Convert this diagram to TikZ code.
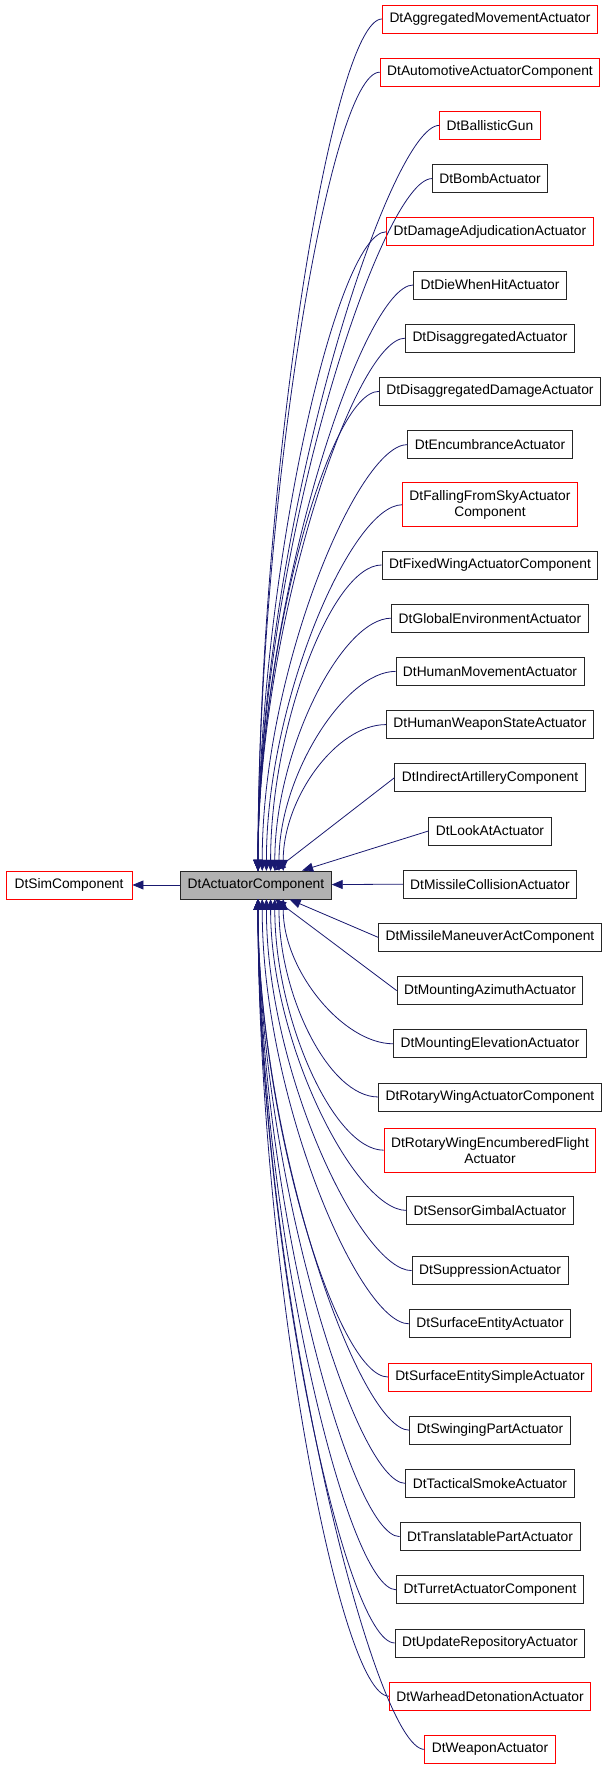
\documentclass[tikz,border=0pt]{standalone}
\usepackage{fontspec}
\setmainfont{Liberation Sans}
\usetikzlibrary{arrows.meta,calc}
\definecolor{edgecol}{HTML}{191970}
\tikzset{
 box/.style={draw=black!85,line width=0.9pt,minimum height=28pt,inner xsep=7pt,font=\fontsize{13.8}{16}\selectfont,align=center},
 redbox/.style={box,draw=red},
 edge/.style={draw=edgecol,line width=0.8pt,-{Triangle[length=11pt,width=9pt]}}
}
\newcommand{\mkchild}[4]{% index, name, text, style
 \pgfmathsetmacro{\yy}{19+53.2*#1+(#1==9)*7+(#1>9)*14+(#1==22)*7+(#1>22)*14}
 \node[#4] (#2) at (490,1779-\yy) {#3};
 \pgfmathsetmacro{\dd}{abs(#1-16)}
 \pgfmathsetmacro{\ex}{258+max(0,9-\dd)*4.2}
 \pgfmathsetmacro{\cy}{0.45*abs(\yy-885)}
 \ifnum#1<14
  \draw[edge] (#2.west) .. controls ($(#2.west)+(-50,0)$) and (\ex,894+14+\cy) .. (\ex,894+14);
 \else\ifnum#1>18
  \draw[edge] (#2.west) .. controls ($(#2.west)+(-50,0)$) and (\ex,894-14-\cy) .. (\ex,894-14);
 \else
  \draw[edge] (#2.west) -- (main);
 \fi\fi
}
\begin{document}
\begin{tikzpicture}[x=1pt,y=1pt]
\useasboundingbox (0,0) rectangle (608,1779);
\node[box,fill=black!30,minimum width=150pt] (main) at (256,894) {DtActuatorComponent};
\node[redbox,minimum width=126pt] (sim) at (69,894) {DtSimComponent};
\draw[edge] (main) -- (sim);
\mkchild{0}{c0}{DtAggregatedMovementActuator}{redbox}
\mkchild{1}{c1}{DtAutomotiveActuatorComponent}{redbox}
\mkchild{2}{c2}{DtBallisticGun}{redbox}
\mkchild{3}{c3}{DtBombActuator}{box}
\mkchild{4}{c4}{DtDamageAdjudicationActuator}{redbox}
\mkchild{5}{c5}{DtDieWhenHitActuator}{box}
\mkchild{6}{c6}{DtDisaggregatedActuator}{box}
\mkchild{7}{c7}{DtDisaggregatedDamageActuator}{box}
\mkchild{8}{c8}{DtEncumbranceActuator}{box}
\mkchild{9}{c9}{DtFallingFromSkyActuator\\Component}{redbox,minimum height=44pt}
\mkchild{10}{c10}{DtFixedWingActuatorComponent}{box}
\mkchild{11}{c11}{DtGlobalEnvironmentActuator}{box}
\mkchild{12}{c12}{DtHumanMovementActuator}{box}
\mkchild{13}{c13}{DtHumanWeaponStateActuator}{box}
\mkchild{14}{c14}{DtIndirectArtilleryComponent}{box}
\mkchild{15}{c15}{DtLookAtActuator}{box}
\mkchild{16}{c16}{DtMissileCollisionActuator}{box}
\mkchild{17}{c17}{DtMissileManeuverActComponent}{box}
\mkchild{18}{c18}{DtMountingAzimuthActuator}{box}
\mkchild{19}{c19}{DtMountingElevationActuator}{box}
\mkchild{20}{c20}{DtRotaryWingActuatorComponent}{box}
\mkchild{21}{c21}{DtRotaryWingEncumberedFlight\\Actuator}{redbox,minimum height=44pt}
\mkchild{22}{c22}{DtSensorGimbalActuator}{box}
\mkchild{23}{c23}{DtSuppressionActuator}{box}
\mkchild{24}{c24}{DtSurfaceEntityActuator}{box}
\mkchild{25}{c25}{DtSurfaceEntitySimpleActuator}{redbox}
\mkchild{26}{c26}{DtSwingingPartActuator}{box}
\mkchild{27}{c27}{DtTacticalSmokeActuator}{box}
\mkchild{28}{c28}{DtTranslatablePartActuator}{box}
\mkchild{29}{c29}{DtTurretActuatorComponent}{box}
\mkchild{30}{c30}{DtUpdateRepositoryActuator}{box}
\mkchild{31}{c31}{DtWarheadDetonationActuator}{redbox}
\mkchild{32}{c32}{DtWeaponActuator}{redbox}
\end{tikzpicture}
\end{document}
